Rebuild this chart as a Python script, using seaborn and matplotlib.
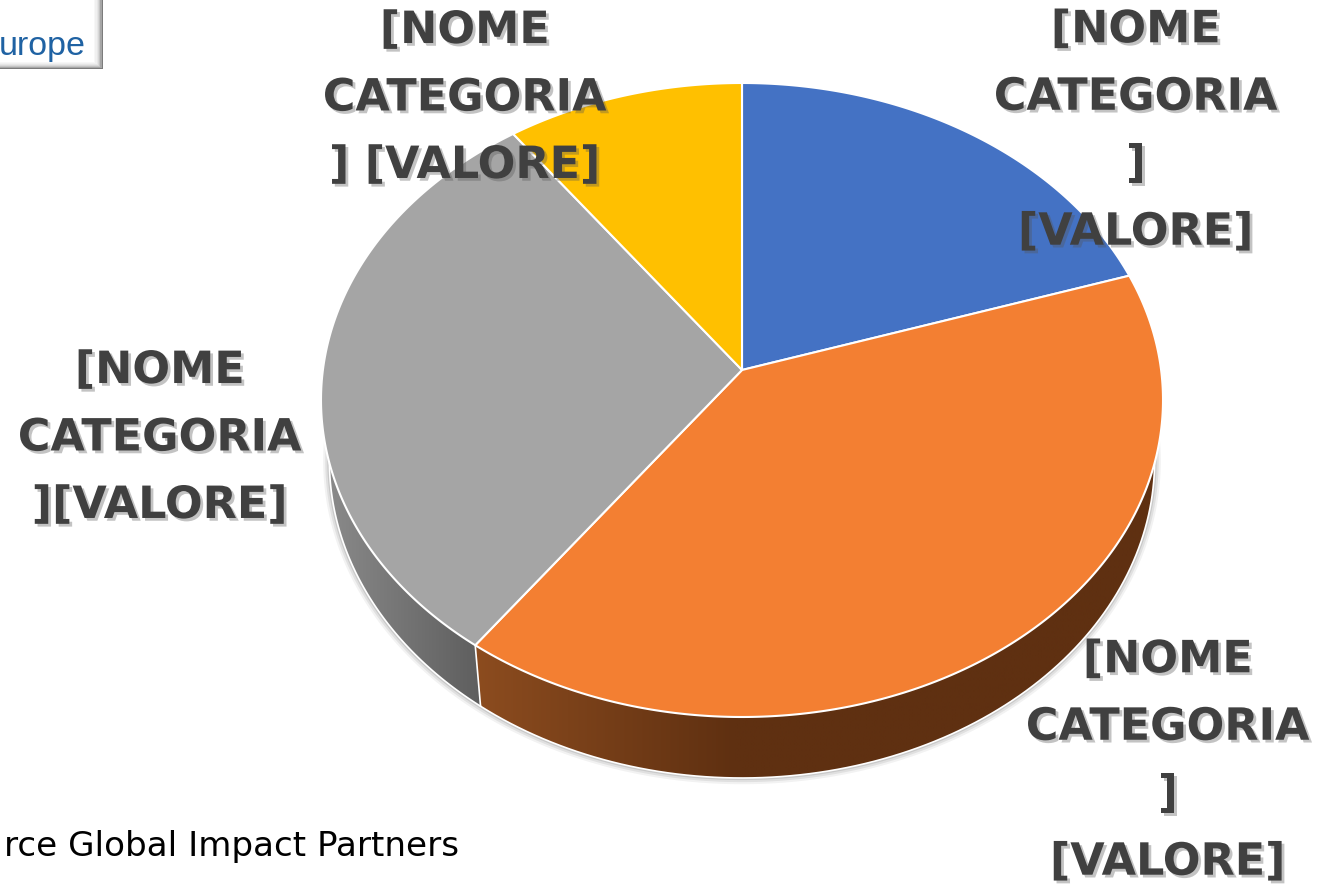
import numpy as np
import matplotlib
matplotlib.use("Agg")
import matplotlib.pyplot as plt
import matplotlib.patheffects as pe
from matplotlib.colors import LinearSegmentedColormap
from matplotlib.patches import Polygon, Rectangle
import seaborn as sns

categories = ["Blu", "Arancione", "Grigio", "Giallo"]
values = [20, 40, 30, 10]
top_colors = ["#4472C4", "#F37F32", "#A5A5A5", "#FFC000"]
side_colors = {1: ("#8C4C1F", "#5F3011"), 2: ("#8C8C8C", "#5E5E5E")}
labels = [
    ("[NOME\nCATEGORIA\n]\n[VALORE]", 1136, 131),
    ("[NOME\nCATEGORIA\n] [VALORE]", 465, 98),
    ("[NOME\nCATEGORIA\n][VALORE]", 160, 438),
    ("[NOME\nCATEGORIA\n]\n[VALORE]", 1168, 761),
]
source_text = "rce Global Impact Partners"
logo_text = "urope"

sns.set_theme(style="white")
palette = sns.color_palette(top_colors)

fig = plt.figure(figsize=(13.17, 8.89), dpi=100, facecolor="white")
ax = fig.add_axes([0, 0, 1, 1])

wedges, _ = ax.pie(values, startangle=90, counterclock=False, colors=palette)
angles = [(w.theta1, w.theta2) for w in wedges]
for w in wedges:
    w.remove()

# perspective projection of the unit disc onto the picture
CX, APEX, TOP, BOTTOM, RX, DEPTH, SHRINK = 742, 370, 83, 717, 421, 61, 0.98
c = (APEX * 2 - TOP - BOTTOM) / (TOP - BOTTOM)
a = TOP * (1 + c) - APEX
d = RX * np.sqrt(1 - c ** 2)


def project(x, y):
    w = 1 + c * y
    return CX + d * x / w, (APEX + a * y) / w


def arc(t1, t2, n=240):
    t = np.radians(np.linspace(t1, t2, n))
    return project(np.cos(t), np.sin(t))


def drop(x, y):
    return CX + (x - CX) * SHRINK, y + DEPTH


ax.set_xlim(0, 1317)
ax.set_ylim(889, 0)
ax.set_aspect("auto")
ax.axis("off")

# soft shadow round the lower rim
X, Y = arc(0, 360, 720)
mid = 0.5 * (TOP + BOTTOM)
Xb, Yb = drop(X, Y)
for lw, al in [(9, 0.05), (6, 0.07), (3, 0.10)]:
    ax.add_patch(Polygon(np.c_[Xb, Yb], closed=True, fc="none",
                         ec=(0, 0, 0, al), lw=lw, zorder=0.9))
ax.add_patch(Polygon(np.c_[Xb, Yb], closed=True, fc="white", ec="none", zorder=1))

# side walls
for i, (t1, t2) in enumerate(angles):
    if i not in side_colors:
        continue
    x, y = arc(t1, t2)
    keep = y >= mid
    x, y = x[keep], y[keep]
    xd, yd = drop(x, y)
    pts = np.r_[np.c_[x, y], np.c_[xd, yd][::-1]]
    poly = Polygon(pts, closed=True, fc="none", ec="none", zorder=2)
    ax.add_patch(poly)
    cmap = LinearSegmentedColormap.from_list("side", side_colors[i])
    xx = np.linspace(pts[:, 0].min(), pts[:, 0].max(), 512)
    if i == 1:
        g = np.clip((xx - xx[0]) / 260, 0, 1)[None, :]
    else:
        g = ((xx - xx[0]) / (xx[-1] - xx[0]))[None, :]
    im = ax.imshow(g, extent=(xx[0], xx[-1], pts[:, 1].max(), pts[:, 1].min()),
                   aspect="auto", cmap=cmap, vmin=0, vmax=1, zorder=2,
                   interpolation="bilinear")
    im.set_clip_path(poly)
    ax.plot(xd, yd, color="white", lw=1.2, zorder=3)
    if i == 1:
        ax.plot([x[0], xd[0]], [y[0], yd[0]], color="white", lw=1.2, zorder=3)

# top faces
ax0, ay0 = project(0.0, 0.0)
for (t1, t2), col in zip(angles, palette):
    x, y = arc(t1, t2)
    pts = np.r_[[[ax0, ay0]], np.c_[x, y]]
    ax.add_patch(Polygon(pts, closed=True, fc=col, ec="white", lw=1.5,
                         joinstyle="round", zorder=4))

ax.set_xlim(0, 1317)
ax.set_ylim(889, 0)

# logo fragment with bevel
bevel = ["#7c7c7c", "#a6a6a6", "#c4c4c4", "#d8d8d8", "#e6e6e6", "#f0f0f0", "#f7f7f7", "#ffffff"]
for k, col in enumerate(bevel):
    ax.add_patch(Rectangle((-20, -20), 123 - k * 1.3, 89 - k, fc=col, ec="none", zorder=6))
ax.text(86, 55, logo_text, ha="right", va="baseline", fontsize=24.5, color="#1F62A3",
        family="Liberation Sans", zorder=7)

# source note
ax.text(459, 856, source_text, ha="right", va="baseline", fontsize=24.6, color="black",
        family="DejaVu Sans", zorder=7)

# data labels
for text, x, y in labels:
    ax.text(x, y, text, ha="center", va="center", multialignment="center",
            fontsize=32, fontweight="bold", family="DejaVu Sans", color="#404040",
            linespacing=1.72, zorder=8,
            path_effects=[pe.withSimplePatchShadow(offset=(2, -2), shadow_rgbFace="#555555", alpha=0.35)])

fig.savefig("out.png", dpi=100, facecolor="white")
